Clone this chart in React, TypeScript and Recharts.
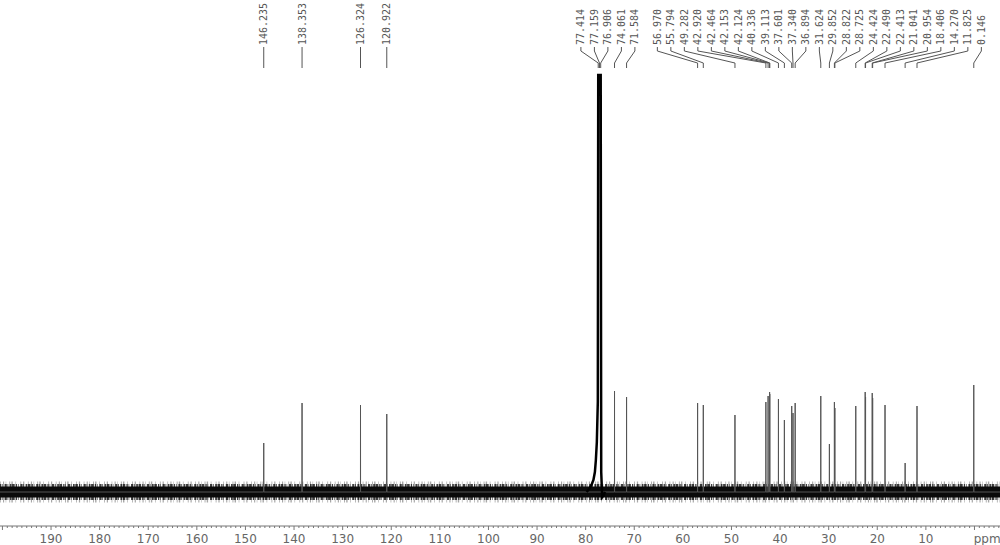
import { ComposedChart, Line, XAxis, YAxis } from "recharts";

const W = 1000;
const H = 545;
const AXIS_H = 19;
// ppm window (reversed on screen) and intensity window, ~1 unit per pixel
const X_MIN = -5.25;
const X_MAX = 200.5;
const Y_MIN = -34;
const Y_MAX = 492;

// 13C shifts (ppm) and peak heights
const PEAK_PPM = [
  146.235, 138.353, 126.324, 120.922, 74.061, 71.584, 56.97, 55.794, 49.282, 42.92, 42.464,
  42.153, 42.124, 40.336, 39.113, 37.601, 37.34, 36.894, 31.624, 29.852, 28.822, 28.725,
  24.424, 22.49, 22.413, 21.041, 20.954, 18.406, 14.27, 11.825, 0.146,
];
const PEAK_HEIGHT = [
  49, 89, 87, 78, 101, 95, 89, 87, 77, 90, 96, 100, 98, 93, 72, 86, 79, 89, 96, 48, 90, 84, 86,
  100, 95, 99, 94, 87, 29, 86, 107,
];

// CDCl3 triplet, runs off the top; skirt
const SOLVENT_PPM = [79.8, 79.3, 78.8, 78.4, 78.1, 77.9, 77.7, 77.5, 77.414, 77.159, 76.906, 76.8, 76.6, 76.3, 76.0];
const SOLVENT_HEIGHT = [0, 3, 7, 12, 20, 32, 50, 90, 417, 417, 417, 20, -5, -3, 0];

// labelled shifts, high to low
const LABEL_PPM = [
  146.235, 138.353, 126.324, 120.922, 77.414, 77.159, 76.906, 74.061, 71.584, 56.97, 55.794,
  49.282, 42.92, 42.464, 42.153, 42.124, 40.336, 39.113, 37.601, 37.34, 36.894, 31.624, 29.852,
  28.822, 28.725, 24.424, 22.49, 22.413, 21.041, 20.954, 18.406, 14.27, 11.825, 0.146,
];

const TICK_LABELS = [10, 20, 30, 40, 50, 60, 70, 80, 90, 100, 110, 120, 130, 140, 150, 160, 170, 180, 190];
const UNIT_AT = -2.6;

const HALF = 0.012;
const spectrum = [{ x: X_MAX, y: 0 }];
PEAK_PPM.forEach((p, i) => {
  spectrum.push({ x: p + HALF, y: 0 }, { x: p, y: PEAK_HEIGHT[i] }, { x: p - HALF, y: 0 });
});
spectrum.push({ x: X_MIN, y: 0 });

const solvent = SOLVENT_PPM.map((x, i) => ({ x, y: SOLVENT_HEIGHT[i] }));
const baseline = [{ x: X_MAX, y: 0 }, { x: X_MIN, y: 0 }];

const minorTicks: number[] = [];
for (let v = -5; v <= 200; v++) minorTicks.push(v);
const ticks = [...minorTicks, UNIT_AT];

// spread labels so they don't overlap, like the NMR software does
const PX_PER_PPM = W / (X_MAX - X_MIN);
const LABEL_GAP = 13.5;
function layoutLabels(ppms: number[]) {
  const targets = ppms.map((p) => (X_MAX - p) * PX_PER_PPM);
  const clusters: { first: number; n: number; center: number }[] = [];
  targets.forEach((t, i) => {
    clusters.push({ first: i, n: 1, center: t });
    while (clusters.length > 1) {
      const b = clusters[clusters.length - 1];
      const a = clusters[clusters.length - 2];
      const aRight = a.center + ((a.n - 1) / 2) * LABEL_GAP;
      const bLeft = b.center - ((b.n - 1) / 2) * LABEL_GAP;
      if (bLeft - aRight >= LABEL_GAP) break;
      const n = a.n + b.n;
      const sum = targets.slice(a.first, a.first + n).reduce((s, v) => s + v, 0);
      clusters.splice(-2, 2, { first: a.first, n, center: sum / n });
    }
  });
  const px: number[] = [];
  clusters.forEach((c) => {
    for (let k = 0; k < c.n; k++) px.push(c.center + (k - (c.n - 1) / 2) * LABEL_GAP);
  });
  return px.map((v) => X_MAX - v / PX_PER_PPM);
}

const labelAt = layoutLabels(LABEL_PPM);
const leaders = LABEL_PPM.map((p, i) => [
  { x: labelAt[i], y: 445, text: p.toFixed(3) },
  { x: labelAt[i], y: 441 },
  { x: p, y: 429 },
  { x: p, y: 424 },
]);

function LabelDot(props: any) {
  const { cx, cy, index, payload } = props;
  if (index !== 0) return <g key={`d${index}`} />;
  return (
    <text
      key={`t${payload.text}`}
      x={cx}
      y={cy - 2}
      transform={`rotate(-90, ${cx}, ${cy - 2})`}
      textAnchor="start"
      dominantBaseline="central"
      fontFamily="DejaVu Sans Mono"
      fontSize={10}
      fill="#555"
    >
      {payload.text}
    </text>
  );
}

function AxisTick(props: any) {
  const { x, y, payload } = props;
  const v = payload.value;
  if (v === UNIT_AT) {
    return (
      <text x={x} y={y + 13} textAnchor="middle" dominantBaseline="central" fontFamily="DejaVu Sans" fontSize={12} fill="#666">
        ppm
      </text>
    );
  }
  const major = v % 10 === 0;
  return (
    <g>
      <line x1={x} x2={x} y1={y} y2={y + (major ? 4 : 2)} stroke="#777" strokeWidth={1} />
      {TICK_LABELS.includes(v) && (
        <text x={x} y={y + 13} textAnchor="middle" dominantBaseline="central" fontFamily="DejaVu Sans" fontSize={12} fill="#666">
          {v}
        </text>
      )}
    </g>
  );
}

const plain = { dataKey: "y", dot: false, activeDot: false, isAnimationActive: false } as const;

export default function App() {
  return (
    <div style={{ position: "absolute", left: 0, top: 0, width: W, height: H, background: "#fff" }}>
      <ComposedChart width={W} height={H} margin={{ top: 0, right: 0, bottom: 0, left: 0 }}>
        <XAxis
          type="number"
          dataKey="x"
          domain={[X_MIN, X_MAX]}
          reversed
          allowDataOverflow
          ticks={ticks}
          interval={0}
          tick={<AxisTick />}
          tickLine={false}
          tickSize={0}
          tickMargin={0}
          axisLine={{ stroke: "#777" }}
          height={AXIS_H}
        />
        <YAxis hide type="number" domain={[Y_MIN, Y_MAX]} allowDataOverflow />
        {/* noise floor: ragged fringes + dense core */}
        <Line
          {...plain}
          data={baseline}
          stroke="#222"
          strokeOpacity={0.4}
          strokeWidth={21}
          strokeDasharray="0.7 2.3 1.1 1.6 0.5 3.1 0.9 1.2 1.4 2.7 0.6 4.3 0.8 1.9 1.2 3.6"
        />
        <Line
          {...plain}
          data={baseline}
          stroke="#111"
          strokeOpacity={0.8}
          strokeWidth={16}
          strokeDasharray="1.3 0.9 0.6 1.8 2.2 0.7 0.8 1.5 1.7 0.6 2.6 1.1"
        />
        <Line {...plain} data={baseline} stroke="#0a0a0a" strokeWidth={11} />
        <Line {...plain} data={spectrum} stroke="#555" strokeWidth={1} />
        <Line {...plain} data={solvent} stroke="#000" strokeWidth={2.5} />
        {leaders.map((d, i) => (
          <Line
            key={i}
            data={d}
            dataKey="y"
            stroke="#555"
            strokeWidth={1}
            dot={<LabelDot />}
            activeDot={false}
            isAnimationActive={false}
          />
        ))}
      </ComposedChart>
    </div>
  );
}
